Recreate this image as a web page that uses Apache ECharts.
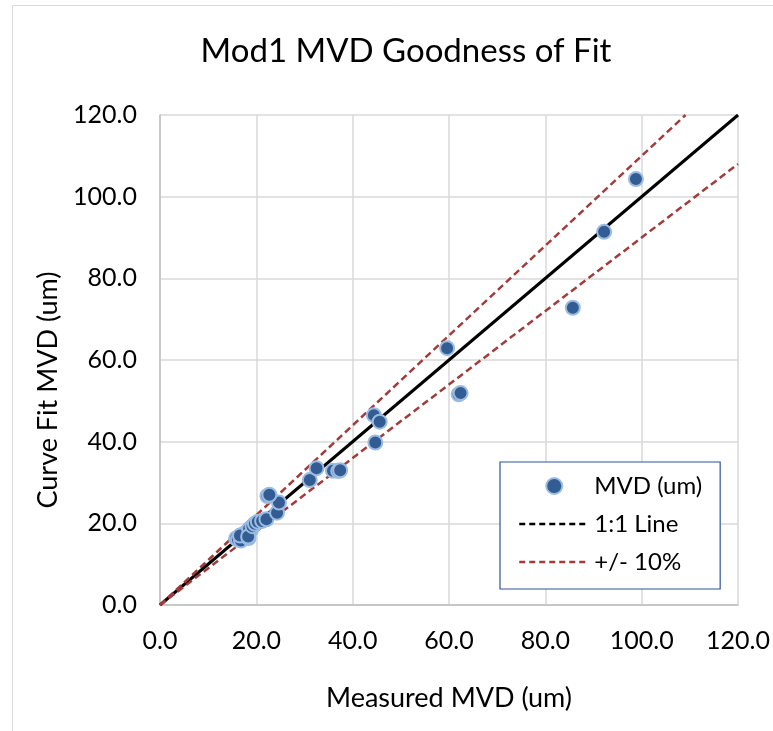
<!DOCTYPE html>
<html>
<head>
<meta charset="utf-8">
<script src="https://cdn.jsdelivr.net/npm/echarts@6/dist/echarts.min.js"></script>
<style>
html,body{margin:0;padding:0;background:#fff;}
#chart{width:773px;height:731px;}
</style>
</head>
<body>
<div id="chart"></div>
<script>
// Measured MVD (um) and curve-fit MVD (um)
const measured = [15.8, 16.2, 16.8, 17.6, 16.6, 18.4, 18.9, 18.5, 18.3, 19.2, 19.7, 20.3, 21.2, 22.1, 24.3, 24.7, 22.3, 22.7,
  31.1, 32.5, 35.9, 37.0, 37.4, 44.4, 45.6, 44.7, 59.6, 62.0, 62.4, 85.7, 92.2, 98.8];
const fitted = [16.3, 16.0, 15.8, 17.6, 17.0, 16.4, 18.4, 18.6, 16.8, 19.3, 19.9, 20.4, 20.6, 21.0, 22.6, 25.1, 26.7, 27.0,
  30.6, 33.5, 32.9, 32.8, 33.0, 46.5, 44.9, 39.8, 62.9, 51.6, 51.9, 72.8, 91.4, 104.3];
const oneToOne = [[0, 0], [120, 120]];
const plus10 = [[0, 0], [109.1, 120]];
const minus10 = [[0, 0], [120, 108]];
const axisTicks = [0, 20, 40, 60, 80, 100, 120];

const FONT = 'Lato';
const points = measured.map((m, i) => [m, fitted[i]]);

const chart = echarts.init(document.getElementById('chart'));
chart.setOption({
  backgroundColor: '#fff',
  animation: false,
  title: {
    text: 'Mod1 MVD Goodness of Fit',
    left: 401,
    textAlign: 'center',
    top: 30,
    textStyle: {fontFamily: FONT, fontSize: 33, fontWeight: 'normal', color: '#000'}
  },
  graphic: [{
    type: 'rect', silent: true, z: -10,
    shape: {x: 12.5, y: 5.5, width: 820, height: 820},
    style: {fill: 'none', stroke: '#d9d9d9', lineWidth: 1}
  }],
  grid: {left: 160, right: 34, top: 115, bottom: 126},
  xAxis: {
    type: 'value', min: axisTicks[0], max: axisTicks[axisTicks.length - 1], interval: 20,
    name: 'Measured MVD (um)', nameLocation: 'middle', nameGap: 80,
    nameTextStyle: {fontFamily: FONT, fontSize: 27, color: '#000'},
    axisLine: {show: true, lineStyle: {color: '#bfbfbf', width: 1.5}},
    axisTick: {show: false},
    axisLabel: {margin: 23, fontFamily: FONT, fontSize: 25, color: '#000', formatter: v => v.toFixed(1)},
    splitLine: {show: true, lineStyle: {color: '#d9d9d9', width: 1.5}}
  },
  yAxis: {
    type: 'value', min: axisTicks[0], max: axisTicks[axisTicks.length - 1], interval: 20,
    name: 'Curve Fit MVD (um)', nameLocation: 'middle', nameGap: 98,
    nameTextStyle: {fontFamily: FONT, fontSize: 27, color: '#000', padding: [0, 60, 0, 0]},
    axisLine: {show: true, lineStyle: {color: '#bfbfbf', width: 1.5}},
    axisTick: {show: false},
    axisLabel: {margin: 23, fontFamily: FONT, fontSize: 25, color: '#000', formatter: v => v.toFixed(1)},
    splitLine: {show: true, lineStyle: {color: '#d9d9d9', width: 1.5}}
  },
  legend: {
    orient: 'vertical', left: 500, top: 462,
    padding: [12, 18, 15, 18],
    borderColor: '#2f5597', borderWidth: 1.2, backgroundColor: '#fff',
    itemWidth: 70, itemHeight: 16, itemGap: 14,
    textStyle: {fontFamily: FONT, fontSize: 24, color: '#000'},
    data: [
      {name: 'MVD (um)'},
      {name: '1:1 Line', lineStyle: {type: [6, 4], width: 2.5}, itemStyle: {opacity: 0}},
      {name: '+/- 10%', lineStyle: {type: [6, 4], width: 2.5}, itemStyle: {opacity: 0}}
    ]
  },
  series: [
    {
      name: '1:1 Line', type: 'line', data: oneToOne, symbol: 'none', z: 2,
      lineStyle: {color: '#000', width: 3, type: 'solid'},
      itemStyle: {color: '#000'}
    },
    {
      name: '+/- 10%', type: 'line', data: plus10, symbol: 'none', z: 3,
      lineStyle: {color: '#a33b3b', width: 2.5, type: [7, 4]},
      itemStyle: {color: '#a33b3b'}
    },
    {
      name: '+/- 10%', type: 'line', data: minus10, symbol: 'none', z: 3,
      lineStyle: {color: '#a33b3b', width: 2.5, type: [7, 4]},
      itemStyle: {color: '#a33b3b'}
    },
    {
      name: 'MVD (um)', type: 'scatter', data: points, symbol: 'circle', symbolSize: 14, z: 5,
      itemStyle: {color: '#335d92', borderColor: '#9bbbe3', borderWidth: 2, opacity: 1}
    }
  ]
});
</script>
</body>
</html>
